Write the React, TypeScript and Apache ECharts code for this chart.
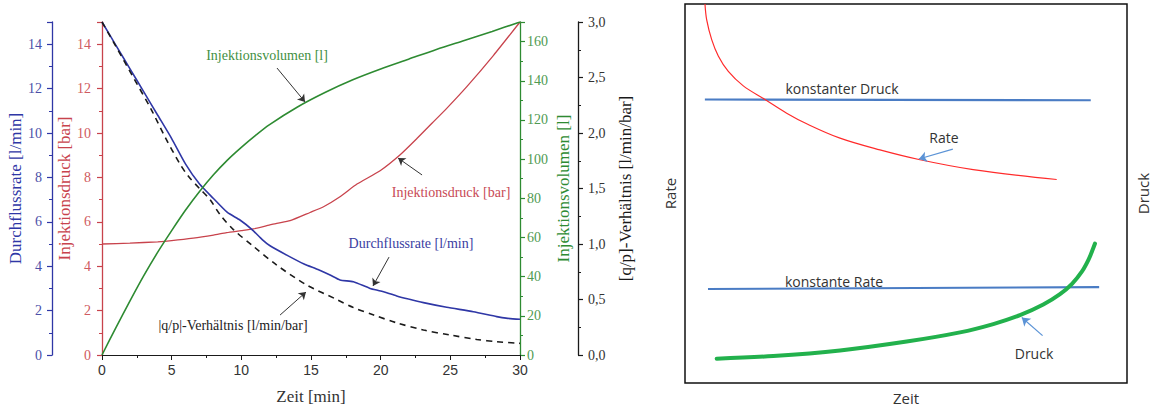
import React, { useEffect, useRef } from "react";
import * as echarts from "echarts";

// ---------- Left panel data (Zeit [min] vs. values) ----------
const durchflussrate: number[][] = [
  [0, 15], [1, 13.95], [2, 12.9], [3, 11.85], [4, 10.8], [5, 9.75], [6, 8.6], [7, 7.7],
  [8, 7.05], [9, 6.42], [9.9, 6.08], [10.75, 5.66], [11.5, 5.2], [12.06, 4.92], [13.26, 4.5],
  [14.5, 4.1], [15.5, 3.85], [16.37, 3.6], [17.08, 3.38], [18.04, 3.3], [19.24, 3.0],
  [20, 2.88], [21.15, 2.66], [22, 2.52], [23.07, 2.36], [24.74, 2.15], [26.65, 1.95],
  [28.33, 1.73], [29, 1.66], [30, 1.61],
];
const injektionsdruck: number[][] = [
  [0, 5.0], [2, 5.04], [4, 5.1], [5, 5.15], [6.55, 5.26], [8, 5.4], [8.95, 5.51], [10, 5.6],
  [10.86, 5.68], [12, 5.85], [12.54, 5.93], [13.5, 6.05], [14.93, 6.42], [15.9, 6.68],
  [17.08, 7.13], [18.3, 7.7], [19.96, 8.3], [21.4, 9.02], [22.6, 9.75], [23.7, 10.45],
  [24.74, 11.11], [26.2, 12.1], [28.1, 13.5], [30, 15.0],
];
const injektionsvolumen: number[][] = [
  [0, 0], [1, 14], [2, 27.5], [3, 40.5], [4, 52.5], [5, 63.5], [6, 74], [7, 83.5], [8, 92],
  [9, 99.5], [10, 106], [11, 112], [12, 117.5], [14, 126.5], [16, 134], [18, 140.5], [20, 146],
  [22, 151], [24, 156], [26, 160.6], [28, 165.2], [30, 170],
];
const qpVerhaeltnis: number[][] = [
  [0, 3.0], [1, 2.78], [2.25, 2.5], [3.5, 2.22], [4.5, 1.97], [5.6, 1.72], [6.2, 1.61],
  [7, 1.5], [7.75, 1.4], [8.5, 1.26], [9.43, 1.13], [10.86, 0.98], [12.54, 0.81],
  [14.7, 0.63], [16.85, 0.5], [18, 0.43], [19.5, 0.36], [21.15, 0.29], [23.07, 0.225],
  [25, 0.18], [26.9, 0.14], [28.33, 0.12], [30, 0.105],
];

// annotation arrows (data coordinates: [from, to])
const arrowVolumen = [[12.56, 146.5], [14.57, 129.2]];
const arrowDruck = [[22.97, 8.11], [21.25, 8.87]];
const arrowRate = [[20.6, 4.41], [19.45, 3.11]];
const arrowQp = [[12.78, 0.36], [14.64, 0.567]];

// ---------- Right panel data (schematic, arbitrary units 0..100) ----------
const konstanterDruckLinie: number[][] = [[4.5, 74.8], [91.8, 74.6]];
const konstanteRateLinie: number[][] = [[5.2, 24.8], [93.7, 25.3]];
const rateKurve: number[][] = [
  [4.52, 100.0], [4.91, 95.8], [6.04, 90.6], [7.53, 86.3], [9.8, 82.2], [13.19, 78.4],
  [18.1, 74.8], [23.0, 71.2], [27.53, 68.4], [35.07, 64.6], [44.1, 61.5], [53.17, 58.9],
  [65.2, 56.3], [84.1, 53.7],
];
const druckKurve: number[][] = [
  [7.17, 6.43], [19.98, 7.11], [35.07, 8.59], [50.16, 10.94], [62.22, 13.36], [69.75, 15.55],
  [75.79, 17.89], [81.06, 20.7], [84.84, 23.44], [87.56, 26.17], [89.82, 29.43], [91.4, 32.81],
  [92.31, 35.42], [92.76, 36.8],
];
const arrowSchemaRate = [[60.6, 61.7], [52.9, 59.1]];
const arrowSchemaDruck = [[80.9, 12.5], [76.2, 17.3]];

const SERIF = "'Liberation Serif', 'Times New Roman', serif";
const SANS = "'Liberation Sans', Arial, sans-serif";
const UI = "'Open Sans', 'Noto Sans', sans-serif";

const BLUE = "#2f37a6";
const RED = "#c8434c";
const GREEN = "#2e8b32";
const BLACK = "#1a1a1a";

function arrowMark(pts: number[][], color: string, width: number, size: number) {
  return {
    silent: true,
    symbol: ["none", "arrow"],
    symbolSize: size,
    label: { show: false },
    emphasis: { disabled: true },
    lineStyle: { color, width, type: "solid" },
    data: [[{ coord: pts[0] }, { coord: pts[1] }]],
  };
}

function leftYAxis(opts: any) {
  const { color, labelColor, name, offset, position, min, max, interval, nameGap, margin, formatter, showMax } = opts;
  return {
    type: "value",
    gridIndex: 0,
    position,
    offset,
    min,
    max,
    interval,
    name,
    nameLocation: "middle",
    nameRotate: 90,
    nameGap,
    nameTextStyle: { fontFamily: SERIF, fontSize: 17, color },
    axisLine: { show: true, lineStyle: { color, width: 1.3 } },
    axisTick: { show: true, inside: false, length: 5, lineStyle: { color, width: 1.2 } },
    minorTick: { show: true, splitNumber: 2, length: 3, lineStyle: { color, width: 1 } },
    splitLine: { show: false },
    axisLabel: {
      fontFamily: SERIF,
      fontSize: 14,
      color: labelColor,
      margin,
      showMaxLabel: showMax,
      formatter,
    },
  };
}

export default function App() {
  const ref = useRef<HTMLDivElement>(null);
  useEffect(() => {
    document.body.style.margin = "0";
    if (!ref.current) return;
    const chart = echarts.init(ref.current, undefined, { renderer: "svg" });
    const option: any = {
      animation: false,
      backgroundColor: "#ffffff",
      grid: [
        { left: 102, top: 22, width: 418, height: 333 },
        {
          left: 685, top: 4, width: 442, height: 384, show: true,
          borderColor: "#111", borderWidth: 1.5, backgroundColor: "transparent",
        },
      ],
      xAxis: [
        {
          type: "value", gridIndex: 0, min: 0, max: 30, interval: 5,
          name: "Zeit [min]", nameLocation: "middle", nameGap: 33,
          nameTextStyle: { fontFamily: SERIF, fontSize: 17, color: "#333" },
          axisLine: { show: true, onZero: false, lineStyle: { color: BLACK, width: 1.2 } },
          axisTick: { show: true, length: 5, lineStyle: { color: BLACK } },
          minorTick: { show: true, splitNumber: 2, length: 3, lineStyle: { color: BLACK } },
          splitLine: { show: false },
          axisLabel: { fontFamily: SANS, fontSize: 14, color: "#333", margin: 8 },
        },
        {
          type: "value", gridIndex: 1, min: 0, max: 100,
          name: "Zeit", nameLocation: "middle", nameGap: 7,
          nameTextStyle: { fontFamily: UI, fontSize: 15, color: "#333" },
          axisLine: { show: false }, axisTick: { show: false }, axisLabel: { show: false },
          splitLine: { show: false },
        },
      ],
      yAxis: [
        leftYAxis({
          color: RED, labelColor: "#cf5a60", name: "Injektionsdruck [bar]", offset: 0, position: "left",
          min: 0, max: 15, interval: 2, nameGap: 25, margin: 11, showMax: false,
        }),
        leftYAxis({
          color: BLUE, labelColor: "#4b4fa8", name: "Durchflussrate [l/min]", offset: 50, position: "left",
          min: 0, max: 15, interval: 2, nameGap: 26, margin: 10, showMax: false,
        }),
        leftYAxis({
          color: GREEN, labelColor: "#4f9a52", name: "Injektionsvolumen [l]", offset: 0, position: "right",
          min: 0, max: 170, interval: 20, nameGap: 35, margin: 7, showMax: false,
        }),
        leftYAxis({
          color: BLACK, labelColor: "#333", name: "[q/p]-Verhältnis [l/min/bar]", offset: 58, position: "right",
          min: 0, max: 3, interval: 0.5, nameGap: 39, margin: 10, showMax: true,
          formatter: (v: number) => v.toFixed(1).replace(".", ","),
        }),
        {
          type: "value", gridIndex: 1, min: 0, max: 100, position: "left",
          name: "Rate", nameLocation: "middle", nameRotate: 90, nameGap: 8,
          nameTextStyle: { fontFamily: UI, fontSize: 15, color: "#333" },
          axisLine: { show: false }, axisTick: { show: false }, axisLabel: { show: false },
          splitLine: { show: false },
        },
        {
          type: "value", gridIndex: 1, min: 0, max: 100, position: "right",
          name: "Druck", nameLocation: "middle", nameRotate: 90, nameGap: 8,
          nameTextStyle: { fontFamily: UI, fontSize: 15, color: "#333" },
          axisLine: { show: false }, axisTick: { show: false }, axisLabel: { show: false },
          splitLine: { show: false },
        },
      ],
      series: [
        {
          name: "Injektionsdruck", type: "line", xAxisIndex: 0, yAxisIndex: 0,
          data: injektionsdruck, showSymbol: false, smooth: 0.2,
          lineStyle: { color: RED, width: 1.3 },
          markLine: arrowMark(arrowDruck, "#333", 1, 7),
        },
        {
          name: "Durchflussrate", type: "line", xAxisIndex: 0, yAxisIndex: 1,
          data: durchflussrate, showSymbol: false, smooth: 0.2,
          lineStyle: { color: BLUE, width: 1.6 },
          markLine: arrowMark(arrowRate, "#333", 1, 7),
        },
        {
          name: "Injektionsvolumen", type: "line", xAxisIndex: 0, yAxisIndex: 2,
          data: injektionsvolumen, showSymbol: false, smooth: 0.3,
          lineStyle: { color: GREEN, width: 1.6 },
          markLine: arrowMark(arrowVolumen, "#333", 1, 7),
        },
        {
          name: "q/p", type: "line", xAxisIndex: 0, yAxisIndex: 3,
          data: qpVerhaeltnis, showSymbol: false, smooth: 0.3,
          lineStyle: { color: BLACK, width: 1.6, type: [6, 5] },
          markLine: arrowMark(arrowQp, "#333", 1, 7),
        },
        {
          name: "konstanter Druck", type: "line", xAxisIndex: 1, yAxisIndex: 4,
          data: konstanterDruckLinie, showSymbol: false,
          lineStyle: { color: "#4a7cc4", width: 2.2 },
        },
        {
          name: "konstante Rate", type: "line", xAxisIndex: 1, yAxisIndex: 4,
          data: konstanteRateLinie, showSymbol: false,
          lineStyle: { color: "#4a7cc4", width: 2.2 },
        },
        {
          name: "Rate", type: "line", xAxisIndex: 1, yAxisIndex: 4,
          data: rateKurve, showSymbol: false, smooth: 0.35,
          lineStyle: { color: "#ff2b2b", width: 1.2 },
          markLine: arrowMark(arrowSchemaRate, "#5b93d6", 1.2, 8),
        },
        {
          name: "Druck", type: "line", xAxisIndex: 1, yAxisIndex: 4,
          data: druckKurve, showSymbol: false, smooth: 0.35,
          lineStyle: { color: "#22b14c", width: 4, cap: "round", join: "round" },
          markLine: arrowMark(arrowSchemaDruck, "#5b93d6", 1.2, 8),
        },
      ],
      graphic: [
        { type: "text", x: 267, y: 55, style: { text: "Injektionsvolumen [l]", fill: "#3f8f43", font: `14px ${SERIF}`, align: "center", verticalAlign: "middle" } },
        { type: "text", x: 451, y: 192, style: { text: "Injektionsdruck [bar]", fill: "#c84a55", font: `14px ${SERIF}`, align: "center", verticalAlign: "middle" } },
        { type: "text", x: 411, y: 243, style: { text: "Durchflussrate [l/min]", fill: "#3a3ea2", font: `14px ${SERIF}`, align: "center", verticalAlign: "middle" } },
        { type: "text", x: 233, y: 325, style: { text: "|q/p|-Verhältnis [l/min/bar]", fill: "#222", font: `14px ${SERIF}`, align: "center", verticalAlign: "middle" } },
        { type: "text", x: 842, y: 88, style: { text: "konstanter Druck", fill: "#333", font: `14px ${UI}`, align: "center", verticalAlign: "middle" } },
        { type: "text", x: 944, y: 137, style: { text: "Rate", fill: "#333", font: `14px ${UI}`, align: "center", verticalAlign: "middle" } },
        { type: "text", x: 834, y: 281, style: { text: "konstante Rate", fill: "#333", font: `14px ${UI}`, align: "center", verticalAlign: "middle" } },
        { type: "text", x: 1034, y: 353, style: { text: "Druck", fill: "#333", font: `14px ${UI}`, align: "center", verticalAlign: "middle" } },
      ],
    };
    chart.setOption(option);
    return () => chart.dispose();
  }, []);
  return <div ref={ref} style={{ width: 1151, height: 410 }} />;
}
